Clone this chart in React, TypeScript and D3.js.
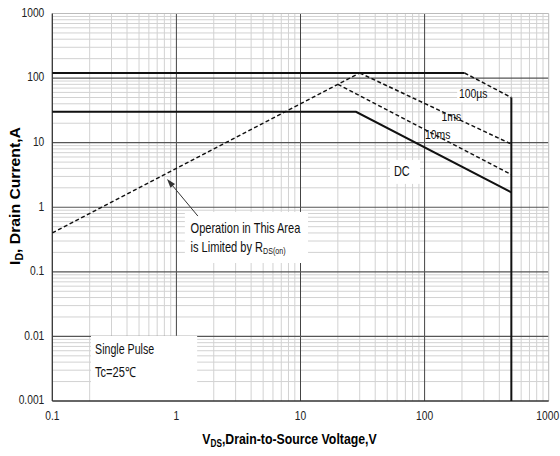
import React from "react";
import * as d3 from "d3";

// ---- data ----
const xTicks = [0.1, 1, 10, 100, 1000];
const xTickLabels = ["0.1", "1", "10", "100", "1000"];
const yTicks = [0.001, 0.01, 0.1, 1, 10, 100, 1000];
const yTickLabels = ["0.001", "0.01", "0.1", "1", "10", "100", "1000"];

// RDS(on) limit (dashed)
const rdsV = [0.1, 30];
const rdsI = [0.4, 120];
// 100us: flat solid part, dashed slope, vertical BVdss limit
const us100FlatV = [0.1, 210];
const us100FlatI = [120, 120];
const us100SlopeV = [210, 500];
const us100SlopeI = [120, 50];
const bvV = [500, 500];
const bvI = [50, 0.001];
// 1ms (dashed)
const ms1V = [30, 500];
const ms1I = [120, 9.5];
// 10ms (dashed)
const ms10V = [20, 500];
const ms10I = [80, 3.2];
// DC (solid)
const dcV = [0.1, 28, 500];
const dcI = [30, 30, 1.7];

const W = 560;
const H = 456;
const FONT = "'Liberation Sans', Arial, sans-serif";

function T(props: {
  x: number;
  y: number;
  sx?: number;
  rot?: number;
  size: number;
  anchor?: string;
  weight?: string;
  mid?: boolean;
  fill?: string;
  children: React.ReactNode;
}) {
  const { x, y, sx = 1, rot = 0, size, anchor = "start", weight = "normal", mid = true, fill = "#111" } = props;
  return (
    <g transform={`translate(${x},${y}) rotate(${rot}) scale(${sx},1)`}>
      <text
        x={0}
        y={0}
        textAnchor={anchor}
        dominantBaseline={mid ? "middle" : "auto"}
        fontFamily={FONT}
        fontSize={size}
        fontWeight={weight}
        fill={fill}
      >
        {props.children}
      </text>
    </g>
  );
}

export default function App() {
  const x = d3.scaleLog().domain([0.1, 1000]).range([52.3, 548.7]);
  const y = d3.scaleLog().domain([0.001, 1000]).range([401, 13.5]);
  const line = d3
    .line<[number, number]>()
    .x((d) => x(d[0]))
    .y((d) => y(d[1]));
  const zip = (a: number[], b: number[]) =>
    a.map((v, i) => [v, b[i]] as [number, number]);

  const decades = [0.001, 0.01, 0.1, 1, 10, 100];
  const minorY: number[] = [];
  decades.forEach((d) => {
    for (let k = 2; k <= 9; k++) minorY.push(k * d);
  });
  const minorX: number[] = [];
  [0.1, 1, 10, 100].forEach((d) => {
    for (let k = 2; k <= 9; k++) minorX.push(k * d);
  });

  const x0 = x(0.1), x1 = x(1000), y0 = y(0.001), y1 = y(1000);

  // arrow
  const tip: [number, number] = [x(0.84), y(2.74)];
  const tail: [number, number] = [x(1.49), y(0.73)];
  const ang = Math.atan2(tip[1] - tail[1], tip[0] - tail[0]);
  const ah = 9, aw = 3;
  const bx = tip[0] - ah * Math.cos(ang), by = tip[1] - ah * Math.sin(ang);
  const head = `M${tip[0]},${tip[1]} L${bx + aw * Math.sin(ang)},${by - aw * Math.cos(ang)} L${bx - aw * Math.sin(ang)},${by + aw * Math.cos(ang)} Z`;

  const box = (v0: number, v1: number, i0: number, i1: number) => (
    <rect
      x={x(v0)}
      y={y(i0)}
      width={x(v1) - x(v0)}
      height={y(i1) - y(i0)}
      fill="#fff"
    />
  );

  const dash = "4,2.5";

  return (
    <svg
      width={W}
      height={H}
      style={{ position: "absolute", left: 0, top: 0, background: "#fff" }}
    >
      <rect x={0} y={0} width={W} height={H} fill="#fff" />
      {/* minor grid */}
      {minorX.map((v) => (
        <line key={"mx" + v} x1={x(v)} x2={x(v)} y1={y0} y2={y1} stroke="#d2d2d2" strokeWidth={1} />
      ))}
      {minorY.map((v) => (
        <line key={"my" + v} x1={x0} x2={x1} y1={y(v)} y2={y(v)} stroke="#d2d2d2" strokeWidth={1} />
      ))}
      {/* major grid */}
      {[1, 10, 100].map((v) => (
        <line key={"Mx" + v} x1={x(v)} x2={x(v)} y1={y0} y2={y1} stroke="#444" strokeWidth={1} />
      ))}
      {[0.01, 0.1, 1, 10, 100].map((v) => (
        <line key={"My" + v} x1={x0} x2={x1} y1={y(v)} y2={y(v)} stroke="#555" strokeWidth={1.2} />
      ))}
      {/* top / right border */}
      <line x1={x0} x2={x1} y1={y1} y2={y1} stroke="#bbb" strokeWidth={1} />
      <line x1={x1} x2={x1} y1={y0} y2={y1} stroke="#bbb" strokeWidth={1} />

      {/* label boxes */}
      {box(0.205, 1.47, 0.0102, 0.001)}
      {box(1.17, 11.5, 0.846, 0.137)}
      {box(52.6, 91.8, 5.4, 2.3)}
      {box(183, 245, 68, 42)}

      {/* axes */}
      <line x1={x0} x2={x0} y1={y0} y2={y1} stroke="#333" strokeWidth={1.3} />
      <line x1={x0} x2={x1} y1={y0} y2={y0} stroke="#333" strokeWidth={1.3} />

      {/* data lines */}
      <path d={line(zip(us100FlatV, us100FlatI)) || ""} fill="none" stroke="#111" strokeWidth={2} />
      <path d={line(zip(us100SlopeV, us100SlopeI)) || ""} fill="none" stroke="#111" strokeWidth={1.5} strokeDasharray={dash} />
      <path d={line(zip(bvV, bvI)) || ""} fill="none" stroke="#111" strokeWidth={2} />
      <path d={line(zip(rdsV, rdsI)) || ""} fill="none" stroke="#111" strokeWidth={1.5} strokeDasharray={dash} />
      <path d={line(zip(ms1V, ms1I)) || ""} fill="none" stroke="#111" strokeWidth={1.5} strokeDasharray={dash} />
      <path d={line(zip(ms10V, ms10I)) || ""} fill="none" stroke="#111" strokeWidth={1.5} strokeDasharray={dash} />
      <path d={line(zip(dcV, dcI)) || ""} fill="none" stroke="#111" strokeWidth={2} />

      {/* arrow */}
      <line x1={tail[0]} y1={tail[1]} x2={bx} y2={by} stroke="#333" strokeWidth={1} />
      <path d={head} fill="#333" />

      {/* tick labels */}
      {xTicks.map((v, i) => (
        <T key={"xt" + v} x={i === xTicks.length - 1 ? x(v) - 1 : x(v)} y={y0 + 16} anchor="middle" size={12.5} sx={0.82} fill="#222">
          {xTickLabels[i]}
        </T>
      ))}
      {yTicks.map((v, i) => (
        <T key={"yt" + v} x={x0 - 8} y={y(v)} anchor="end" size={12.5} sx={0.82} fill="#222">
          {yTickLabels[i]}
        </T>
      ))}

      {/* curve labels */}
      <T x={x(189)} y={y(54.7)} size={13} sx={0.8}>100µs</T>
      <T x={x(137)} y={y(24.7)} size={13} sx={0.8}>1ms</T>
      <T x={x(100.7)} y={y(13.1)} size={13} sx={0.8}>10ms</T>
      <T x={x(56.6)} y={y(3.5)} size={14} sx={0.78}>DC</T>

      <T x={x(1.3)} y={y(0.46)} size={14} sx={0.79}>Operation in This Area</T>
      <T x={x(1.3)} y={y(0.234)} size={14} sx={0.79}>
        is Limited by R<tspan fontSize={9} dy={4}>DS(on)</tspan>
      </T>
      <T x={x(0.221)} y={y(0.00618)} size={14} sx={0.76}>Single Pulse</T>
      <T x={x(0.221)} y={y(0.00272)} size={14} sx={0.79}>Tc=25℃</T>

      {/* axis titles */}
      <T x={289.5} y={444} anchor="middle" size={15} sx={0.82} weight="bold" mid={false} fill="#000">
        V<tspan fontSize={10} dy={3}>DS</tspan><tspan dy={-3}>,Drain-to-Source Voltage,V</tspan>
      </T>
      <T x={20} y={196} rot={-90} anchor="middle" size={15} sx={1.05} weight="bold" mid={false} fill="#000">
        I<tspan fontSize={10} dy={3}>D</tspan><tspan dy={-3}>, Drain Current,A</tspan>
      </T>
    </svg>
  );
}
